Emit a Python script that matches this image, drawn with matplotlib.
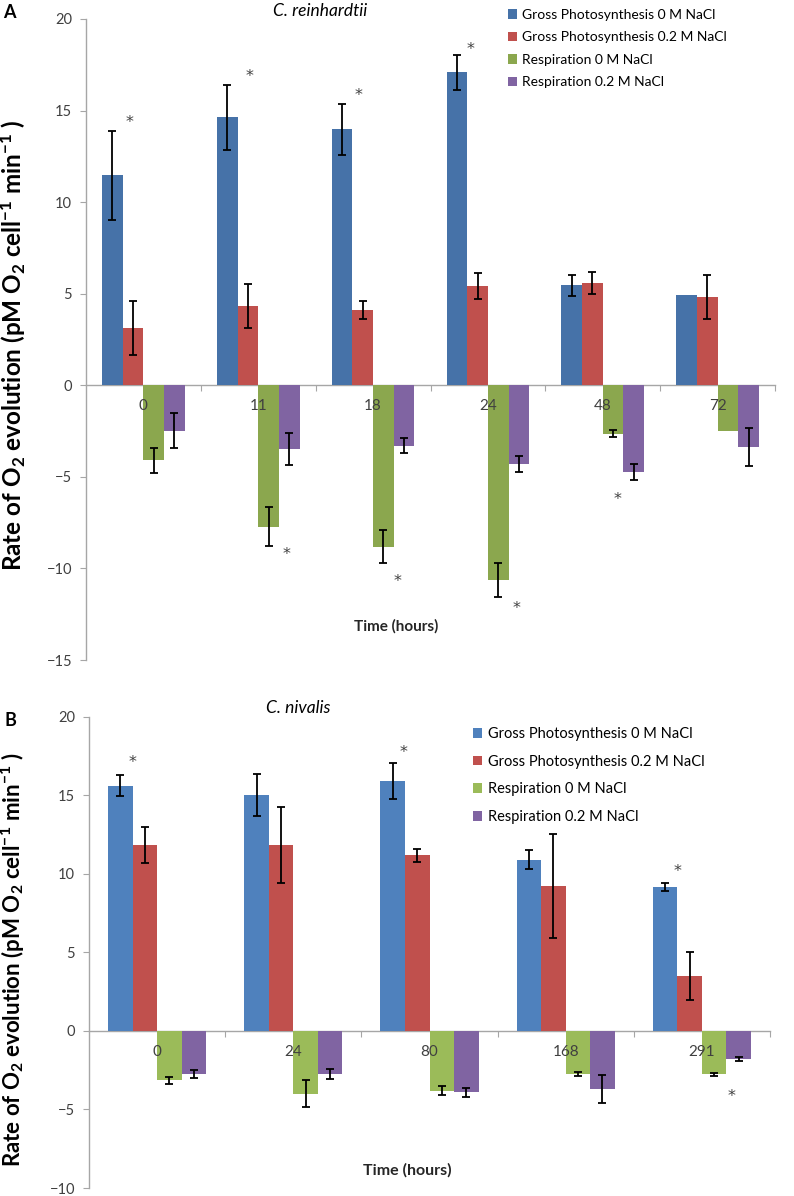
import matplotlib
matplotlib.use('Agg')
import matplotlib.pyplot as plt
from matplotlib.patches import Patch
from matplotlib.ticker import FixedLocator
import numpy as np

plt.rcParams['font.family'] = ['Lato', 'DejaVu Sans']
plt.rcParams['mathtext.fontset'] = 'custom'
plt.rcParams['mathtext.rm'] = 'Lato:bold'
plt.rcParams['mathtext.it'] = 'Lato:bold'
plt.rcParams['mathtext.bf'] = 'Lato:bold'
plt.rcParams['mathtext.default'] = 'bf'

# ---------------- data ----------------
series_names = ['Gross Photosynthesis 0 M NaCl', 'Gross Photosynthesis 0.2 M NaCl',
                'Respiration 0 M NaCl', 'Respiration 0.2 M NaCl']

a_times = ['0', '11', '18', '24', '48', '72']
a_gp0 = [11.46, 14.63, 13.99, 17.08, 5.46, 4.95]
a_gp0_err = [2.45, 1.78, 1.39, 0.96, 0.57, 0.0]
a_gp2 = [3.14, 4.32, 4.12, 5.44, 5.57, 4.83]
a_gp2_err = [1.47, 1.20, 0.50, 0.71, 0.59, 1.21]
a_r0 = [-4.10, -7.72, -8.81, -10.63, -2.65, -2.50]
a_r0_err = [0.70, 1.08, 0.89, 0.94, 0.19, 0.0]
a_r2 = [-2.47, -3.47, -3.30, -4.30, -4.74, -3.39]
a_r2_err = [0.93, 0.87, 0.40, 0.42, 0.42, 1.04]

b_times = ['0', '24', '80', '168', '291']
b_gp0 = [15.60, 15.00, 15.90, 10.90, 9.16]
b_gp0_err = [0.66, 1.33, 1.13, 0.60, 0.26]
b_gp2 = [11.83, 11.83, 11.18, 9.23, 3.51]
b_gp2_err = [1.12, 2.42, 0.40, 3.30, 1.52]
b_r0 = [-3.15, -3.99, -3.80, -2.75, -2.75]
b_r0_err = [0.23, 0.84, 0.28, 0.15, 0.10]
b_r2 = [-2.75, -2.75, -3.91, -3.68, -1.81]
b_r2_err = [0.24, 0.31, 0.27, 0.90, 0.12]

# significance markers: (series index, category index)
a_stars = [(0, 0), (0, 1), (0, 2), (0, 3), (2, 1), (2, 2), (2, 3), (3, 4)]
b_stars = [(0, 0), (0, 2), (0, 4), (3, 4)]
# annotation offsets of each star from its error-bar end (points)
a_star_off = [(12, 9), (16, 9.5), (12, 9.5), (9.5, 7.5), (13, -2), (10, -10), (13, -5), (-12, -10.5)]
b_star_off = [(9, 13), (8, 11), (9, 12), (-5, -22)]

colors_a = ['#4672A8', '#C0504D', '#8BA74E', '#8064A2']
colors_b = ['#4F81BD', '#C0504D', '#9BBB59', '#8064A2']

W, H = 794, 1196
fig = plt.figure(figsize=(W / 100, H / 100), dpi=100)

AX_COL = '#A6A6A6'
TXT_COL = '#404040'


def px_rect(l, t, r, b):
    return [l / W, 1 - b / H, (r - l) / W, (b - t) / H]


def draw_panel(ax, times, vals, errs, colors, ylim, stars, star_off):
    n = len(times)
    x = np.arange(n)
    w = 0.18
    for i, (v, e) in enumerate(zip(vals, errs)):
        xs = x + (i - 1.5) * w
        ax.bar(xs, v, width=w, color=colors[i], edgecolor='none', zorder=2)
        v = np.asarray(v)
        e = np.asarray(e)
        m = e > 0
        ax.errorbar(xs[m], v[m], yerr=e[m], fmt='none', ecolor='black', elinewidth=1.3,
                    capsize=2.6, capthick=1.3, zorder=3)
    for (si, ci), (dx, dy) in zip(stars, star_off):
        v = vals[si][ci]
        e = errs[si][ci]
        xs = x[ci] + (si - 1.5) * w
        yend = v + e if v >= 0 else v - e
        ax.annotate('*', xy=(xs, yend), xytext=(dx, dy - 3.5), textcoords='offset points',
                    ha='center', va='center', fontsize=11.5, color=TXT_COL,
                    family='DejaVu Sans', zorder=6)
    ax.set_xlim(-0.5, n - 0.5)
    ax.set_ylim(*ylim)
    ax.set_yticks(np.arange(ylim[0], ylim[1] + 0.1, 5))
    ax.tick_params(axis='y', direction='out', length=4, width=0.8, color=AX_COL,
                   labelsize=10.5, labelcolor=TXT_COL, pad=6)
    ax.spines['top'].set_visible(False)
    ax.spines['right'].set_visible(False)
    ax.spines['left'].set_color(AX_COL)
    ax.spines['bottom'].set_color(AX_COL)
    ax.spines['left'].set_linewidth(1.0)
    ax.spines['bottom'].set_linewidth(1.0)
    ax.spines['bottom'].set_position(('data', 0))
    ax.spines['bottom'].set_zorder(1)
    ax.set_xticks([])
    ax.xaxis.set_minor_locator(FixedLocator(np.arange(0.5, n, 1.0)))
    ax.tick_params(axis='x', which='minor', direction='out', length=4, width=0.8, color=AX_COL)
    for xi, t in zip(x, times):
        ax.annotate(t, xy=(xi, 0), xytext=(0, -15), textcoords='offset points',
                    ha='center', va='center', fontsize=11, color=TXT_COL, zorder=7)
    ax.set_facecolor('none')


# Panel A
axA = fig.add_axes(px_rect(86, 19, 775, 660))
draw_panel(axA, a_times, [a_gp0, a_gp2, a_r0, a_r2], [a_gp0_err, a_gp2_err, a_r0_err, a_r2_err],
           colors_a, (-15, 20), a_stars, a_star_off)

# Panel B
axB = fig.add_axes(px_rect(89, 716.7, 770, 1188))
draw_panel(axB, b_times, [b_gp0, b_gp2, b_r0, b_r2], [b_gp0_err, b_gp2_err, b_r0_err, b_r2_err],
           colors_b, (-10, 20), b_stars, b_star_off)

ylabel = r'Rate of O$_2$ evolution (pM O$_2$ cell$^{-1}$ min$^{-1}$ )'
fig.text(13 / W, 1 - 345 / H, ylabel, rotation=90, ha='center', va='center',
         fontsize=17.5, fontweight='bold', color='black')
fig.text(13 / W, 1 - 960 / H, ylabel, rotation=90, ha='center', va='center',
         fontsize=16, fontweight='bold', color='black')

fig.text(396 / W, 1 - 626 / H, 'Time (hours)', ha='center', va='center', fontsize=11,
         fontweight='bold', color='#262626')
fig.text(407 / W, 1 - 1170 / H, 'Time (hours)', ha='center', va='center', fontsize=11.5,
         fontweight='bold', color='#262626')

fig.text(320 / W, 1 - 11 / H, 'C. reinhardtii', ha='center', va='center', fontsize=12.5,
         style='italic', color='black')
fig.text(298 / W, 1 - 708 / H, 'C. nivalis', ha='center', va='center', fontsize=12.5,
         style='italic', color='black')

fig.text(9 / W, 1 - 12 / H, 'A', ha='center', va='center', fontsize=13, fontweight='bold')
fig.text(10 / W, 1 - 720 / H, 'B', ha='center', va='center', fontsize=13, fontweight='bold')

hA = [Patch(facecolor=c, edgecolor='none') for c in colors_a]
fig.legend(hA, series_names, loc='upper left', bbox_to_anchor=(505 / W, 1 - 6 / H),
           frameon=False, fontsize=10, handlelength=0.65, handleheight=0.65,
           handletextpad=0.35, labelspacing=0.76, borderaxespad=0, borderpad=0.2,
           labelcolor='black')
hB = [Patch(facecolor=c, edgecolor='none') for c in colors_b]
fig.legend(hB, series_names, loc='upper left', bbox_to_anchor=(470 / W, 1 - 724 / H),
           frameon=False, fontsize=10.5, handlelength=0.65, handleheight=0.65,
           handletextpad=0.4, labelspacing=0.94, borderaxespad=0, borderpad=0.2,
           labelcolor='black')

fig.savefig('out.png', dpi=100)
